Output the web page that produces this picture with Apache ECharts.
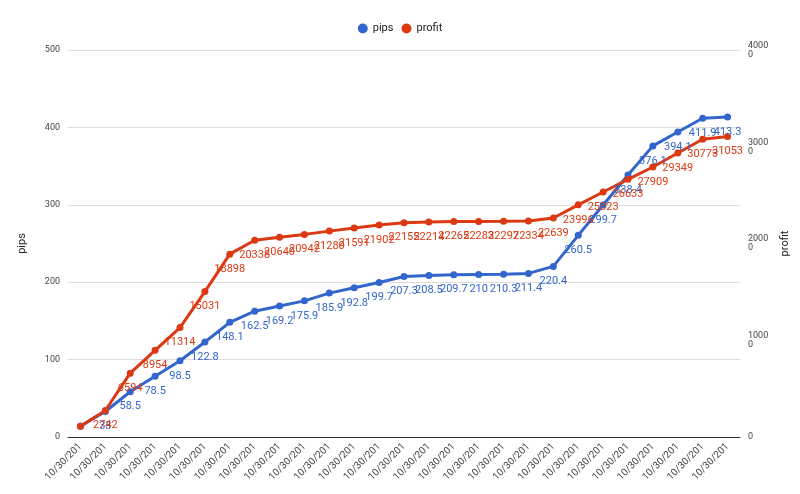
<!DOCTYPE html><html><head><meta charset="utf-8"><script src="https://cdn.jsdelivr.net/npm/echarts@6/dist/echarts.min.js"></script></head><body style="margin:0"><div id="c" style="width:800px;height:494px"></div><script>
const categories = Array(27).fill('10/30/201');
const pips = [14,33,58.5,78.5,98.5,122.8,148.1,162.5,169.2,175.9,185.9,192.8,199.7,207.3,208.5,209.7,210,210.3,211.4,220.4,260.5,299.7,338.4,376.1,394.1,411.9,413.3];
const profit = [1120,2742,6594,8954,11314,15031,18898,20338,20640,20942,21280,21591,21902,22155,22214,22265,22283,22297,22334,22639,23996,25323,26633,27909,29349,30773,31053];
const rightTicks = {0:'0',10000:'1000\n0',20000:'2000\n0',30000:'3000\n0',40000:'4000\n0'};
const lab = (c, skipFirst) => ({show:true,position:'bottom',distance:6,color:c,fontSize:11,formatter:p=>p.dataIndex===0?'':p.value});
const chart = echarts.init(document.getElementById('c'));
chart.setOption({
  textStyle:{fontFamily:'Roboto, Arial'},
  legend:{top:18,left:'center',icon:'circle',itemWidth:10,itemHeight:10,textStyle:{fontSize:11,color:'#222'},data:['pips','profit']},
  grid:{left:68,right:60,top:50,bottom:57},
  xAxis:{type:'category',data:categories,boundaryGap:true,axisTick:{show:false},axisLine:{lineStyle:{color:'#333'}},axisLabel:{rotate:45,fontSize:10,color:'#444',interval:0}},
  yAxis:[
    {type:'value',name:'pips',nameLocation:'middle',nameGap:40,nameTextStyle:{fontSize:11,color:'#222'},min:0,max:500,interval:100,axisLabel:{fontSize:9,color:'#444'},splitLine:{lineStyle:{color:'#ddd'}}},
    {type:'value',name:'profit',nameLocation:'middle',nameGap:40,nameTextStyle:{fontSize:11,color:'#222'},min:0,max:40000,interval:10000,axisLabel:{fontSize:9,color:'#444',formatter:v=>rightTicks[v],align:'left'},splitLine:{show:false}}
  ],
  series:[
    {name:'pips',type:'line',data:pips,yAxisIndex:0,color:'#3366cc',symbol:'circle',symbolSize:7,lineStyle:{width:3},label:lab('#3366cc')},
    {name:'profit',type:'line',data:profit,yAxisIndex:1,color:'#dc3912',symbol:'circle',symbolSize:7,lineStyle:{width:3},label:lab('#dc3912')}
  ]
});
</script></body></html>
